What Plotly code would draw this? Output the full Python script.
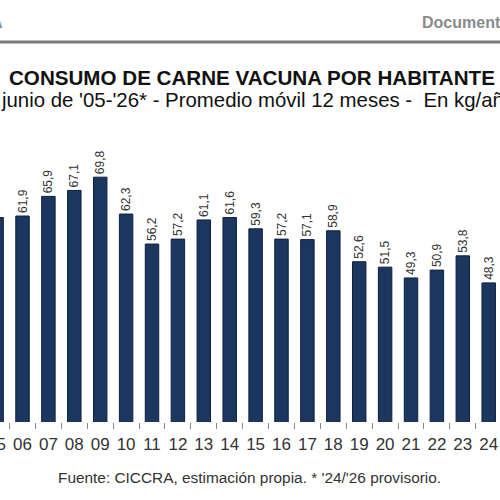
import plotly.graph_objects as go

years = ["05", "06", "07", "08", "09", "10", "11", "12", "13", "14",
         "15", "16", "17", "18", "19", "20", "21", "22", "23", "24"]
consumo = [61.6, 61.9, 65.9, 67.1, 69.8, 62.3, 56.2, 57.2, 61.1, 61.6,
           59.3, 57.2, 57.1, 58.9, 52.6, 51.5, 49.3, 50.9, 53.8, 48.3]

title_text = "CONSUMO DE CARNE VACUNA POR HABITANTE"
subtitle_text = "junio de '05-'26* - Promedio móvil 12 meses -  En kg/año"
source_text = "Fuente: CICCRA, estimación propia. * '24/'26 provisorio."
header_left = "A"
header_right = "Documento"

W, H = 500, 500
MT, MB = 130, 78
plot_h = H - MT - MB
x0, x1 = 0.131, 19.436
px_per_cat = W / (x1 - x0)
y_min = 20
y_max = y_min + plot_h / 4.916
FONT = "Liberation Sans, Arial, sans-serif"


def py(p):
    """pixel y (from top) -> paper y"""
    return (H - MB - p) / plot_h


def pxx(p):
    return p / W


idx = list(range(len(years)))
shift_px = 6
shift = shift_px / px_per_cat

fig = go.Figure(go.Bar(
    x=idx, y=consumo, width=0.52,
    marker=dict(color="#1b365f", line=dict(color="#0f213f", width=1)),
    texttemplate="%{y:.1f}", textposition="outside", textangle=-90,
    constraintext="none", cliponaxis=False,
    textfont=dict(family=FONT, size=12, color="#333333"),
    hoverinfo="skip",
))

fig.update_layout(
    width=W, height=H,
    margin=dict(l=0, r=0, t=MT, b=MB, pad=0, autoexpand=False),
    paper_bgcolor="white", plot_bgcolor="white",
    separators=",.",
    showlegend=False,
    xaxis=dict(
        type="linear", range=[x0, x1], showgrid=False, zeroline=False, showline=False,
        automargin=False,
        tickmode="array", tickvals=[i + shift for i in idx], ticktext=years,
        ticks="", ticklabelshift=-shift_px, ticklabeloverflow="allow",
        ticklabelstandoff=10,
        tickfont=dict(family=FONT, size=17, color="#333333"),
        minor=dict(tickmode="linear", tick0=0.5, dtick=1, ticks="outside",
                   ticklen=6, tickcolor="#8a8a8a", tickwidth=1, showgrid=False),
    ),
    yaxis=dict(range=[y_min, y_max], visible=False, automargin=False),
    shapes=[dict(type="line", xref="paper", yref="paper", x0=0, x1=1,
                 y0=py(42), y1=py(42), line=dict(color="#7a7a7a", width=3))],
    annotations=[
        dict(text=header_left, xref="paper", yref="paper", x=pxx(5), y=py(22),
             xanchor="right", yanchor="middle", showarrow=False,
             font=dict(family=FONT, size=16, color="#8a8a8a", weight="bold")),
        dict(text=header_right, xref="paper", yref="paper", x=pxx(420), y=py(22),
             xanchor="left", yanchor="middle", showarrow=False,
             font=dict(family=FONT, size=16, color="#8a8a8a", weight="bold")),
        dict(text=title_text, xref="paper", yref="paper", x=pxx(252), y=py(77),
             xanchor="center", yanchor="middle", showarrow=False,
             font=dict(family=FONT, size=20.6, color="#111111", weight="bold")),
        dict(text=subtitle_text, xref="paper", yref="paper", x=pxx(-1), y=py(100),
             xanchor="left", yanchor="middle", showarrow=False,
             font=dict(family=FONT, size=20.4, color="#111111")),
        dict(text=source_text, xref="paper", yref="paper", x=pxx(249), y=py(477),
             xanchor="center", yanchor="middle", showarrow=False,
             font=dict(family=FONT, size=15.4, color="#333333")),
    ],
)

fig.write_html("out.html")
